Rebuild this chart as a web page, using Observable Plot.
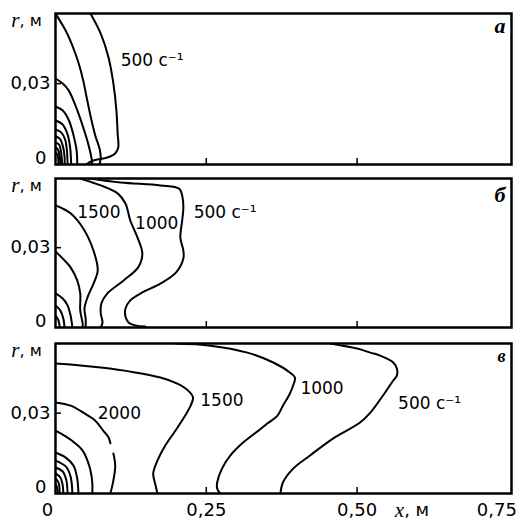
<!DOCTYPE html>
<html><head><meta charset="utf-8">
<script src="https://cdn.jsdelivr.net/npm/d3@7"></script>
<script src="https://cdn.jsdelivr.net/npm/@observablehq/plot@0.6"></script>
<style>body{margin:0;background:#fff} #chart svg{display:block}</style>
</head><body><div id="chart"></div>
<script>
// axes
const xTicks = [0, 0.25, 0.5, 0.75];
const yTicks = [0, 0.03];
const xDomain = [0, 0.756];
const rDomain = [0, 0.056];
const panelLetters = ["а", "б", "в"];

// contour lines, [x (m), r (m)], panel а
const a500  = [[0.058,0.056],[0.075,0.0485],[0.088,0.0396],[0.096,0.030],[0.101,0.020],[0.103,0.0115],[0.104,0.0063],[0.099,0.0041],[0.086,0.0026],[0.063,0.0015],[0.050,0]];
const a1000 = [[0.002,0.0552],[0.017,0.0496],[0.028,0.0441],[0.038,0.0378],[0.046,0.0311],[0.051,0.0256],[0.058,0.0181],[0.066,0.0107],[0.073,0.0059],[0.075,0.0026],[0.073,0]];
const a1500 = [[0,0.0319],[0.012,0.030],[0.022,0.0274],[0.033,0.0219],[0.045,0.0144],[0.055,0.0070],[0.060,0.002],[0.061,0]];
const a2000 = [[0,0.0215],[0.012,0.0200],[0.022,0.0165],[0.030,0.0107],[0.035,0.0052],[0.036,0]];
const a2500 = [[0,0.0163],[0.011,0.0150],[0.019,0.0118],[0.024,0.0068],[0.026,0]];
const a3000 = [[0,0.0130],[0.009,0.0120],[0.016,0.0092],[0.019,0.005],[0.020,0]];
const a3500 = [[0,0.0104],[0.007,0.0096],[0.012,0.0070],[0.015,0.003],[0.015,0]];
const a4000 = [[0,0.0081],[0.006,0.0074],[0.009,0.0050],[0.011,0]];
const a4500 = [[0,0.0063],[0.004,0.0056],[0.007,0.003],[0.008,0]];
const a5000 = [[0,0.0044],[0.003,0.0038],[0.005,0]];

// panel б
const b500  = [[0.055,0.056],[0.108,0.0545],[0.174,0.0534],[0.205,0.0522],[0.210,0.0496],[0.212,0.0451],[0.210,0.0402],[0.207,0.0338],[0.212,0.0289],[0.212,0.0259],[0.200,0.0207],[0.174,0.0165],[0.144,0.0132],[0.124,0.0102],[0.116,0.0071],[0.116,0.0041],[0.121,0.0019],[0.132,0.0008],[0.149,0.0004]];
const b1000 = [[0.041,0.056],[0.075,0.0534],[0.103,0.0504],[0.116,0.0466],[0.124,0.0402],[0.136,0.0338],[0.144,0.0278],[0.137,0.0226],[0.113,0.0177],[0.086,0.0128],[0.076,0.0090],[0.075,0.0053],[0.078,0.0019],[0.075,0]];
const b1500 = [[0,0.0459],[0.012,0.0447],[0.025,0.0429],[0.046,0.0372],[0.063,0.0289],[0.070,0.0214],[0.063,0.0165],[0.053,0.0113],[0.048,0.0071],[0.050,0.0034],[0.050,0]];
const b2000 = [[0,0.0286],[0.012,0.0259],[0.025,0.0226],[0.036,0.0177],[0.041,0.0128],[0.041,0.0064],[0.045,0.0015],[0.045,0]];
const b2500 = [[0,0.0128],[0.012,0.0109],[0.020,0.0083],[0.025,0.0045],[0.028,0]];
const b3000 = [[0,0.0083],[0.008,0.0064],[0.013,0.0034],[0.015,0]];
const b3500 = [[0,0.0045],[0.005,0.0026],[0.007,0]];

// panel в (null = break in the line)
const c500  = [[0.455,0.056],[0.500,0.0541],[0.522,0.0526],[0.538,0.0515],[0.560,0.0489],[0.566,0.0466],[0.566,0.0440],[0.560,0.0422],[0.543,0.0366],[0.522,0.0302],[0.505,0.0265],[0.460,0.0205],[0.422,0.0142],[0.394,0.0093],[0.377,0.0041],[0.373,0]];
const c1000 = [[0.199,0.056],[0.257,0.0552],[0.318,0.0526],[0.361,0.0489],[0.389,0.0451],[0.397,0.0433],[0.394,0.0403],[0.387,0.0366],[0.377,0.0328],[0.368,0.0291],[0.351,0.0261],[0.339,0.0239],[0.311,0.0190],[0.290,0.0142],[0.276,0.0093],[0.268,0.0041],[0.268,0.0019],[0.273,0]];
const c1500 = [[0,0.0485],[0.041,0.0478],[0.075,0.0470],[0.124,0.0455],[0.174,0.0433],[0.202,0.0410],[0.220,0.0384],[0.228,0.0358],[0.224,0.0328],[0.215,0.0291],[0.199,0.0235],[0.182,0.0179],[0.169,0.0123],[0.162,0.0075],[0.166,0.0030],[0.169,0]];
const c2000 = [[0,0.0340],[0.025,0.0328],[0.046,0.0302],[0.066,0.0272],[0.079,0.0235],[0.088,0.0209],[0.091,0.0187],null,[0.096,0.0149],[0.099,0.0104],[0.096,0.0049],[0.091,0]];
const c2500 = [[0,0.0235],[0.017,0.0213],[0.033,0.0187],[0.045,0.0160],[0.053,0.0123],[0.058,0.0086],[0.061,0.0041],[0.061,0]];
const c3000 = [[0,0.0153],[0.017,0.0134],[0.030,0.0104],[0.036,0.0056],[0.038,0]];
const c3500 = [[0,0.0123],[0.017,0.0101],[0.025,0.0063],[0.028,0]];
const c4000 = [[0,0.0097],[0.012,0.0082],[0.018,0.0049],[0.020,0]];
const c4500 = [[0,0.0075],[0.008,0.006],[0.012,0.003],[0.013,0]];
const c5000 = [[0,0.0056],[0.005,0.0041],[0.007,0]];
const c5500 = [[0,0.0037],[0.003,0.002],[0.004,0]];

// contour labels
const labelsA = [{x:0.108, r:0.0385, t:"500 с⁻¹"}];
const labelsB = [{x:0.036, r:0.0432, t:"1500"},{x:0.132, r:0.039, t:"1000"},{x:0.229, r:0.0432, t:"500 с⁻¹"}];
const labelsC = [{x:0.070, r:0.030, t:"2000"},{x:0.240, r:0.0347, t:"1500"},{x:0.406, r:0.039, t:"1000"},{x:0.568, r:0.0336, t:"500 с⁻¹"}];

const panels = [
  {contours: [a500,a1000,a1500,a2000,a2500,a3000,a3500,a4000,a4500,a5000], labels: labelsA, h: 170, mt: 13, mb: 6, letterDy: 12, letterSize: 22},
  {contours: [b500,b1000,b1500,b2000,b2500,b3000,b3500], labels: labelsB, h: 165, mt: 8, mb: 8, letterDy: 16, letterSize: 22},
  {contours: [c500,c1000,c1500,c2000,c2500,c3000,c3500,c4000,c4500,c5000,c5500], labels: labelsC, h: 187, mt: 8, mb: 29, letterDy: 13, letterSize: 18}
];

const fmtY = d => d === 0 ? "0" : String(d).replace(".", ",");
const fmtX = d => d === 0 ? "0" : d3.format(".2f")(d).replace(".", ",");
const W = 520, ML = 55, MR = 9;
const chart = document.getElementById("chart");

panels.forEach((p, i) => {
  const rows = [];
  p.contours.forEach((c, k) => c.forEach(pt => rows.push(pt ? {id: k, x: pt[0], r: pt[1]} : {id: k, x: NaN, r: NaN})));
  const innerW = W - ML - MR, innerH = p.h - p.mt - p.mb;
  const last = i === panels.length - 1;
  const marks = [
    Plot.line(rows, {x: "x", y: "r", z: "id", stroke: "black", strokeWidth: 2, curve: "catmull-rom", clip: true}),
    Plot.text(p.labels, {x: "x", y: "r", text: "t", textAnchor: "start", fontSize: 17, fill: "black"}),
    Plot.ruleY([0.03], {insetRight: innerW - 6, stroke: "black", strokeWidth: 1.5}),
    Plot.ruleX([0.25, 0.5], {insetTop: innerH - 6, stroke: "black", strokeWidth: 1.5}),
    Plot.axisY({ticks: [yTicks[1]], tickSize: 0, tickPadding: 5, tickFormat: fmtY, label: null, fontSize: 18}),
    Plot.axisY({ticks: [yTicks[0]], tickSize: 0, tickPadding: 9, tickFormat: fmtY, label: null, fontSize: 18, dy: -6}),
    Plot.frame({stroke: "black", strokeWidth: 2.5}),
    Plot.text(["r"], {frameAnchor: "top-left", dx: -36, dy: 7, textAnchor: "end", lineAnchor: "middle", fontFamily: "Liberation Serif", fontStyle: "italic", fontSize: 21, fill: "black"}),
    Plot.text([", м"], {frameAnchor: "top-left", dx: -36, dy: 7, textAnchor: "start", lineAnchor: "middle", fontSize: 16, fill: "black"}),
    Plot.text([panelLetters[i]], {frameAnchor: "top-right", dx: -6, dy: p.letterDy, textAnchor: "end", lineAnchor: "middle", fontFamily: "Liberation Serif", fontStyle: "italic", fontWeight: "bold", fontSize: p.letterSize, fill: "black"})
  ];
  if (last) {
    marks.push(
      Plot.axisX({ticks: xTicks.slice(1, 3), tickSize: 0, tickPadding: 10, tickFormat: fmtX, label: null, fontSize: 18}),
      Plot.axisX({ticks: [xTicks[0]], tickSize: 0, tickPadding: 10, tickFormat: fmtX, label: null, fontSize: 18, dx: -8}),
      Plot.axisX({ticks: [xTicks[3]], tickSize: 0, tickPadding: 10, tickFormat: fmtX, label: null, fontSize: 18, dx: -11}),
      Plot.text(["x"], {x: () => 0.578, frameAnchor: "bottom", dy: 17, textAnchor: "end", lineAnchor: "middle", fontFamily: "Liberation Serif", fontStyle: "italic", fontSize: 21, fill: "black"}),
      Plot.text([", м"], {x: () => 0.578, frameAnchor: "bottom", dy: 17, textAnchor: "start", lineAnchor: "middle", fontSize: 18, fill: "black"})
    );
  }
  const svg = Plot.plot({
    width: W, height: p.h, marginLeft: ML, marginRight: MR, marginTop: p.mt, marginBottom: p.mb,
    x: {domain: xDomain, axis: null},
    y: {domain: rDomain, axis: null},
    style: {fontFamily: "DejaVu Sans", fontSize: "18px", color: "black", background: "white"},
    marks
  });
  chart.appendChild(svg);
});
</script>
</body></html>
